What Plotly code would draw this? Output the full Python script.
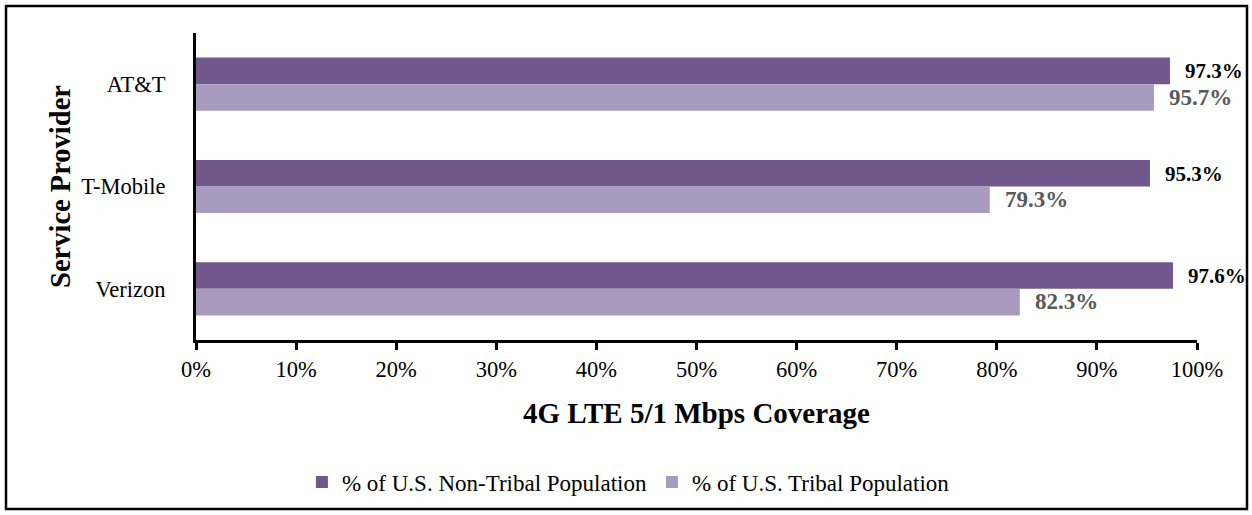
import plotly.graph_objects as go

providers = ["AT&T", "T-Mobile", "Verizon"]
non_tribal = [97.3, 95.3, 97.6]
tribal = [95.7, 79.3, 82.3]
x_ticks = [0, 10, 20, 30, 40, 50, 60, 70, 80, 90, 100]
x_tick_labels = [f"{v}%" for v in x_ticks]

W, H = 1252, 515
L, R, T, B = 196, 55, 33, 175
FONT = "Liberation Serif, Times New Roman, serif"
DARK = "#70588d"
LIGHT = "#a99abf"

fig = go.Figure()
fig.add_trace(go.Bar(y=providers, x=non_tribal, orientation="h", name="% of U.S. Non-Tribal Population",
                     marker=dict(color=DARK, line=dict(width=0))))
fig.add_trace(go.Bar(y=providers, x=tribal, orientation="h", name="% of U.S. Tribal Population",
                     marker=dict(color=LIGHT, line=dict(width=0))))

annotations = []
for p, v in zip(providers, non_tribal):
    annotations.append(dict(x=v, y=p, xref="x", yref="y", text=f"<b>{v:.1f}%</b>", showarrow=False,
                            xanchor="left", yanchor="middle", xshift=13, yshift=13,
                            font=dict(family=FONT, size=21, color="#000000")))
for p, v in zip(providers, tribal):
    annotations.append(dict(x=v, y=p, xref="x", yref="y", text=f"<b>{v:.1f}%</b>", showarrow=False,
                            xanchor="left", yanchor="middle", xshift=13, yshift=-13,
                            font=dict(family=FONT, size=23, color="#595959")))

pw = W - L - R
ph = H - T - B
x0 = (6 - L) / pw
x1 = (1247 - L) / pw
y0 = 1 - (509 - T) / ph
y1 = 1 - (6 - T) / ph

fig.update_layout(
    width=W, height=H,
    margin=dict(l=L, r=R, t=T, b=B),
    paper_bgcolor="white", plot_bgcolor="white",
    barmode="group", bargap=0.48, bargroupgap=0,
    font=dict(family=FONT, size=22, color="#000000"),
    showlegend=True,
    legend=dict(orientation="h", x=0.432, xanchor="center", y=1 - (482 - T) / ph, yanchor="middle",
                traceorder="normal", font=dict(family=FONT, size=23, color="#000000"),
                itemwidth=30, entrywidthmode="pixels"),
    xaxis=dict(range=[0, 100], tickvals=x_ticks, ticktext=x_tick_labels, showgrid=False, zeroline=False,
               showline=True, linecolor="#000000", linewidth=3, ticks="outside", ticklen=7, tickwidth=3,
               tickcolor="#000000", tickfont=dict(family=FONT, size=22.5),
               title=dict(text="<b>4G LTE 5/1 Mbps Coverage</b>", font=dict(family=FONT, size=29), standoff=22)),
    yaxis=dict(autorange="reversed", showgrid=False, showline=True, linecolor="#000000", linewidth=3,
               ticks="", tickfont=dict(family=FONT, size=22.5), ticklabelstandoff=23,
               title=dict(text="<b>Service Provider</b>", font=dict(family=FONT, size=28.5), standoff=3)),
    annotations=annotations,
    shapes=[dict(type="rect", xref="paper", yref="paper", x0=x0, x1=x1, y0=y0, y1=y1,
                 line=dict(color="#000000", width=2.5), fillcolor="rgba(0,0,0,0)", layer="below")],
)

fig.write_html("out.html", config={"displayModeBar": False},
               post_script="document.body.style.margin='0';")
